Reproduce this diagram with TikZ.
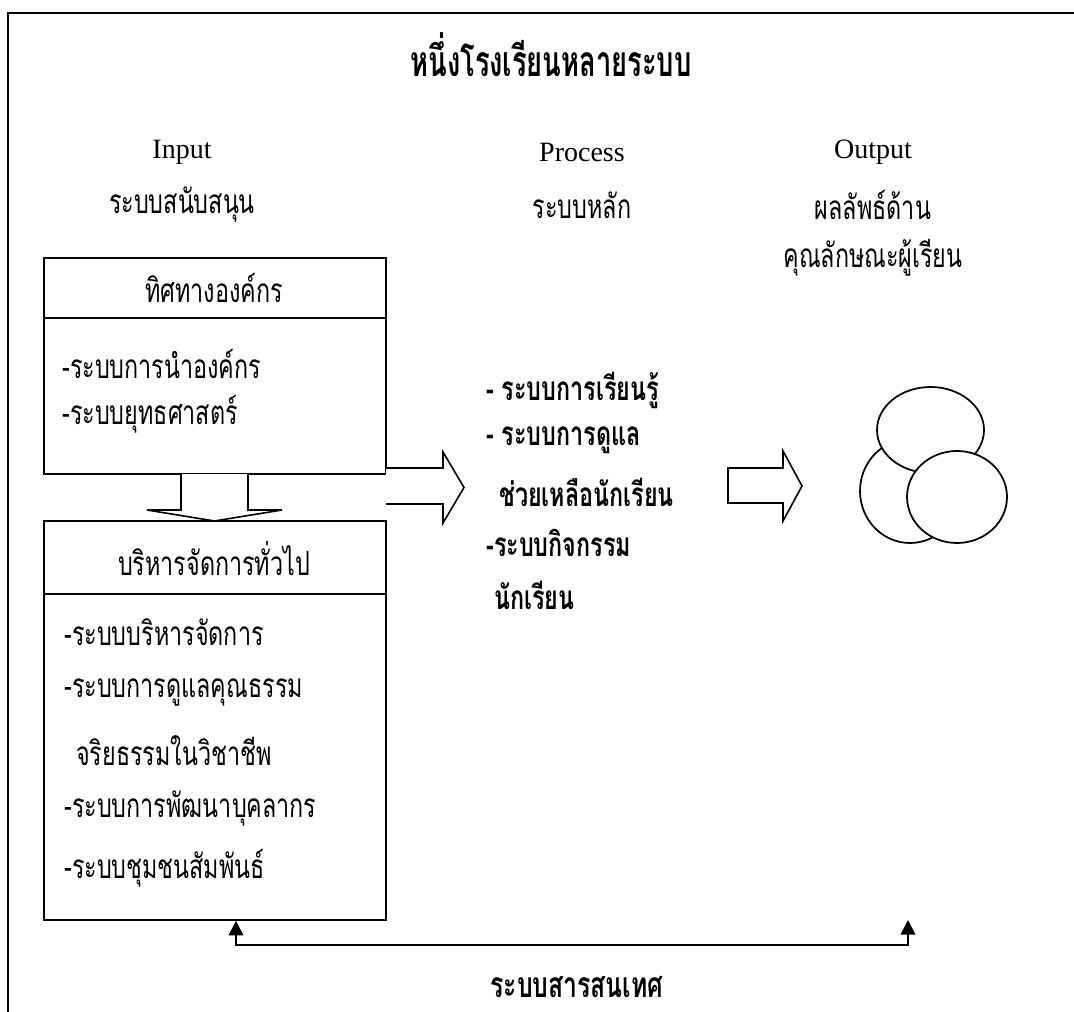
\documentclass[tikz,border=0pt]{standalone}
\usepackage{fontspec}
\setmainfont{Liberation Serif}
\newfontfamily\thai[Script=Thai,FakeStretch=0.7]{Loma}
\newfontfamily\thaititle[Script=Thai,FakeStretch=0.64]{Loma}
\usetikzlibrary{arrows.meta,fit}
\begin{document}
\begin{tikzpicture}[x=0.75pt,y=-0.75pt,
  lat/.style={font=\fontsize{21}{25}\selectfont, inner sep=0pt},
  th/.style={font=\thai\fontsize{25}{30}\selectfont, inner sep=0pt},
  thb/.style={font=\thai\bfseries\fontsize{25}{30}\selectfont, inner sep=0pt},
  item/.style={th, anchor=west},
  pitem/.style={thb, anchor=west},
  boxline/.style={line width=1.2pt},
  blockarrow/.style={line width=1.2pt, fill=white, line join=miter},
  blob/.style={line width=1.3pt, fill=white},
  fb/.style={line width=1.4pt, {Triangle[length=11pt,width=11pt]}-{Triangle[length=11pt,width=11pt]}}
]
\useasboundingbox (0,0) rectangle (1074,1012);
% frame
\draw[line width=2.2pt] (8,1012) -- (8,13) -- (1074,13);
% title
\node[font=\thaititle\bfseries\fontsize{32}{38}\selectfont, inner sep=0pt] (title) at (551,55) {หนึ่งโรงเรียนหลายระบบ};
% column heads
\node[lat] (inp) at (182,152) {Input};
\node[th] (inpth) at (182,205) {ระบบสนับสนุน};
\node[lat] (proc) at (582,152) {Process};
\node[th] (procth) at (582,205) {ระบบหลัก};
\node[lat] (outp) at (873,152) {Output};
\node[th] (outth1) at (873,205) {ผลลัพธ์ด้าน};
\node[th] (outth2) at (873,258) {คุณลักษณะผู้เรียน};
% box 1
\coordinate (b1nw) at (44,258);
\coordinate (b1se) at (386,474);
\node[draw, boxline, fit=(b1nw)(b1se), inner sep=0pt] (box1) {};
\draw[boxline] (44,318) -- (386,318);
\node[th] (b1h) at (214,288) {ทิศทางองค์กร};
\node[item] (b1i1) at (62,364) {-ระบบการนำองค์กร};
\node[item] (b1i2) at (62,414) {-ระบบยุทธศาสตร์};
% box 2
\coordinate (b2nw) at (44,521);
\coordinate (b2se) at (386,920);
\node[draw, boxline, fit=(b2nw)(b2se), inner sep=0pt] (box2) {};
\draw[boxline] (44,594) -- (386,594);
\node[th] (b2h) at (214,558) {บริหารจัดการทั่วไป};
\node[item] (b2i1) at (64,632) {-ระบบบริหารจัดการ};
\node[item] (b2i2) at (64,692) {-ระบบการดูแลคุณธรรม};
\node[item] (b2i3) at (76,751) {จริยธรรมในวิชาชีพ};
\node[item] (b2i4) at (64,809) {-ระบบการพัฒนาบุคลากร};
\node[item] (b2i5) at (64,868) {-ระบบชุมชนสัมพันธ์};
% down block arrow box1 -> box2
\draw[blockarrow] (181,474) -- (181,510) -- (147,510) -- (214.5,521) -- (282,510) -- (248,510) -- (248,474);
% right block arrow box1 -> process
\draw[blockarrow] (386,468) -- (443,468) -- (443,452) -- (464,487.5) -- (443,523) -- (443,504) -- (386,504);
% process list
\node[pitem] (p1) at (486,390) {- ระบบการเรียนรู้};
\node[pitem] (p2) at (486,440) {- ระบบการดูแล};
\node[pitem] (p3) at (499,492) {ช่วยเหลือนักเรียน};
\node[pitem] (p4) at (486,543) {-ระบบกิจกรรม};
\node[pitem] (p5) at (494,595) {นักเรียน};
% right block arrow process -> output
\draw[blockarrow] (728,468) -- (783,468) -- (783,451) -- (802,486) -- (783,521) -- (783,503) -- (728,503) -- cycle;
% output blobs
\draw[blob] (910,491) ellipse [x radius=50, y radius=52];
\draw[blob] (930.5,430) ellipse [x radius=53.5, y radius=43];
\draw[blob] (957,497) ellipse [x radius=50, y radius=46];
% feedback connector
\coordinate (fbL) at (236,945);
\coordinate (fbR) at (908,945);
\coordinate (outfb) at (908,920);
\draw[fb] (box2.south -| fbL) -- (fbL) -- (fbR) -- (outfb);
\node[thb, font=\thai\bfseries\fontsize{26.5}{30}\selectfont] (info) at (577,987) {ระบบสารสนเทศ};
\end{tikzpicture}
\end{document}
